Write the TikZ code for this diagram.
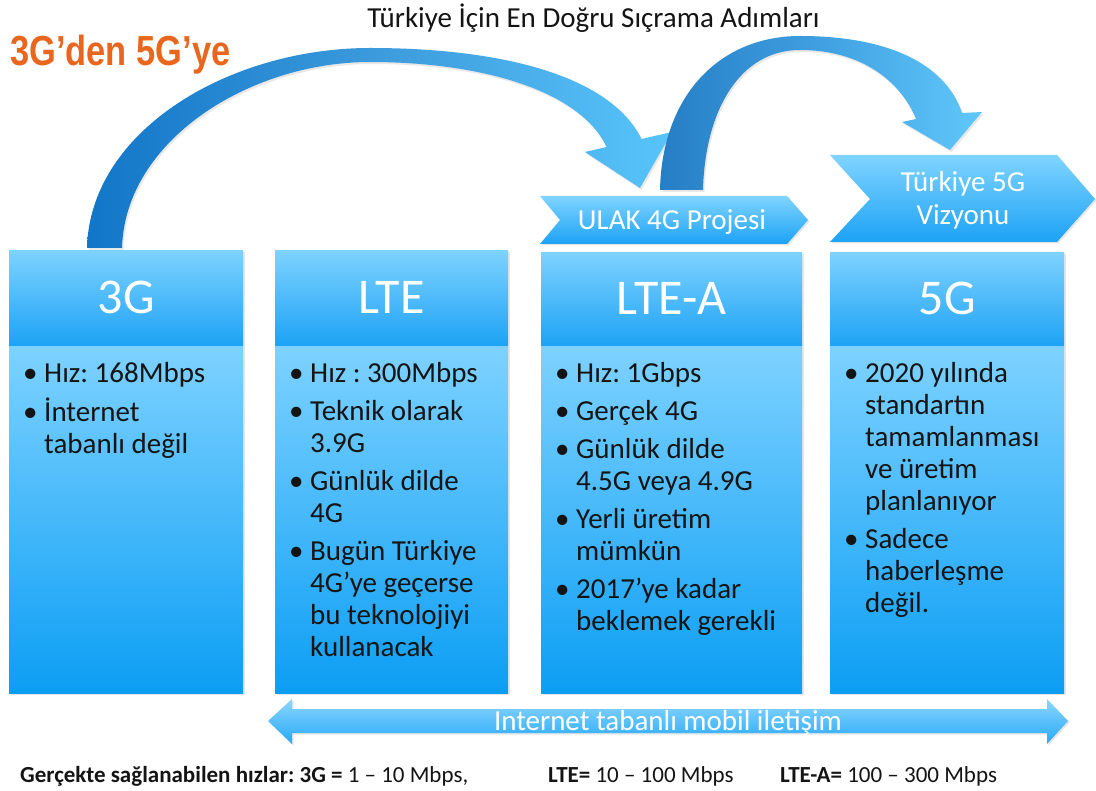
\documentclass[tikz,border=0pt]{standalone}
\usepackage{fontspec}
\setmainfont{Carlito}
\newfontfamily\headfont{Liberation Sans}
\usetikzlibrary{shadows}
\frenchspacing

\definecolor{hdtop}{RGB}{126,210,255}
\definecolor{hdbot}{RGB}{30,163,245}
\definecolor{bdtop}{RGB}{126,210,255}
\definecolor{bdbot}{RGB}{12,158,244}
\definecolor{chtop}{RGB}{128,212,255}
\definecolor{chbot}{RGB}{28,162,245}
\definecolor{dbtop}{RGB}{140,215,255}
\definecolor{dbbot}{RGB}{38,168,246}
\definecolor{orangeT}{RGB}{232,102,30}
\definecolor{txt}{RGB}{20,20,20}
\definecolor{arcA}{RGB}{18,118,200}
\definecolor{arcB}{RGB}{60,155,220}
\definecolor{arcC}{RGB}{88,196,250}
\definecolor{arcD}{RGB}{38,126,196}
\definecolor{arcE}{RGB}{64,160,225}
\definecolor{arcF}{RGB}{96,200,250}

\tikzset{
  soft/.style={drop shadow={opacity=0.2, shadow xshift=1.5pt, shadow yshift=-1.5pt}},
  frame/.style={anchor=north west, inner sep=0pt, fill=bdbot, soft},
  hdr/.style={anchor=north west, inner sep=0pt, top color=hdtop, bottom color=hdbot,
    text=white, font=\fontsize{50}{60}\selectfont},
  bdy/.style={anchor=north west, inner sep=0pt, top color=bdtop, bottom color=bdbot},
  blist/.style={anchor=north west, inner sep=0pt, font=\fontsize{29}{32}\selectfont, text=txt},
  chev/.style={top color=chtop, bottom color=chbot, soft},
  chevtext/.style={text=white, font=\fontsize{29}{33}\selectfont, inner sep=0pt, anchor=base},
  dbl/.style={top color=dbtop, bottom color=dbbot, soft},
  arcone/.style={left color=arcA, right color=arcC, middle color=arcB,
    drop shadow={opacity=0.18, shadow xshift=1.5pt, shadow yshift=-2pt}},
  arctwo/.style={left color=arcD, right color=arcF, middle color=arcE,
    drop shadow={opacity=0.18, shadow xshift=1.5pt, shadow yshift=-2pt}},
  speed/.style={anchor=base west, inner sep=0pt, font=\fontsize{23}{26}\selectfont, text=txt}
}

\begin{document}
\begin{tikzpicture}[x=1pt,y=-1pt]
\useasboundingbox[fill=white] (0,0) rectangle (1096,791);

% headings
\node[anchor=base, inner sep=0pt, font=\fontsize{29}{34}\selectfont, text=txt] (title) at (593.5,28)
  {Türkiye İçin En Doğru Sıçrama Adımları};
\node[anchor=base west, inner sep=0pt, text=orangeT, font=\headfont\bfseries\fontsize{42}{48}\selectfont] (sub) at (10,66)
  {\scalebox{0.82}[1]{3G’den 5G’ye}};

% 3G column
\node[frame, minimum width=234pt, minimum height=443pt] (f3g) at (9,250) {};
\node[bdy, minimum width=234pt, minimum height=348pt] (b3g) at (9,345) {};
\node[hdr, minimum width=234pt, minimum height=95pt] (h3g) at (9,250) {3G};
\node[blist] (l3g) at (23,359.6) {\begin{tabular}{@{}p{21pt}@{}l@{}}
\textbullet & Hız: 168Mbps \\[6pt]
\textbullet & İnternet \\
            & tabanlı değil
\end{tabular}};

% LTE column
\node[frame, minimum width=233pt, minimum height=443pt] (flte) at (275,250) {};
\node[bdy, minimum width=233pt, minimum height=348pt] (blte) at (275,345) {};
\node[hdr, minimum width=233pt, minimum height=95pt] (hlte) at (275,250) {LTE};
\node[blist] (llte) at (289,359.6) {\begin{tabular}{@{}p{21pt}@{}l@{}}
\textbullet & Hız : 300Mbps \\[6pt]
\textbullet & Teknik olarak \\
            & 3.9G \\[6pt]
\textbullet & Günlük dilde \\
            & 4G \\[6pt]
\textbullet & Bugün Türkiye \\
            & 4G’ye geçerse \\
            & bu teknolojiyi \\
            & kullanacak
\end{tabular}};

% LTE-A column
\node[frame, minimum width=261pt, minimum height=441pt] (fltea) at (541,252) {};
\node[bdy, minimum width=261pt, minimum height=348pt] (bltea) at (541,345) {};
\node[hdr, minimum width=261pt, minimum height=93pt] (hltea) at (541,252) {LTE-A};
\node[blist] (lltea) at (555,359.6) {\begin{tabular}{@{}p{21pt}@{}l@{}}
\textbullet & Hız: 1Gbps \\[6pt]
\textbullet & Gerçek 4G \\[6pt]
\textbullet & Günlük dilde \\
            & 4.5G veya 4.9G \\[6pt]
\textbullet & Yerli üretim \\
            & mümkün \\[6pt]
\textbullet & 2017’ye kadar \\
            & beklemek gerekli
\end{tabular}};

% 5G column
\node[frame, minimum width=234pt, minimum height=441pt] (f5g) at (830,252) {};
\node[bdy, minimum width=234pt, minimum height=348pt] (b5g) at (830,345) {};
\node[hdr, minimum width=234pt, minimum height=93pt] (h5g) at (830,252) {5G};
\node[blist] (l5g) at (844,359.6) {\begin{tabular}{@{}p{21pt}@{}l@{}}
\textbullet & 2020 yılında \\
            & standartın \\
            & tamamlanması \\
            & ve üretim \\
            & planlanıyor \\[6pt]
\textbullet & Sadece \\
            & haberleşme \\
            & değil.
\end{tabular}};

% chevrons above LTE-A and 5G
\path[chev] (540,196) -- (787,196) -- (808,220) -- (787,244) -- (540,244) -- (560,220) -- cycle;
\node[chevtext] (ulak) at (672,229.5) {ULAK 4G Projesi};
\path[chev] (830,155) -- (1057,155) -- (1095,199) -- (1057,242) -- (830,242) -- (870,199) -- cycle;
\node[chevtext] (vis1) at (963,191.5) {Türkiye 5G};
\node[chevtext] (vis2) at (963,224.5) {Vizyonu};

% jump arrow from 3G to LTE-A
\path[arcone] (87,248) .. controls (90,130) and (230,48) .. (370,48)
  .. controls (500,48) and (610,75) .. (641.5,139)
  -- (672,132) -- (640,188) -- (585,152) -- (606.5,147)
  .. controls (580,90) and (480,62) .. (370,62)
  .. controls (250,62) and (125,140) .. (122,248) -- cycle;

% jump arrow from LTE-A to 5G
\path[arctwo] (660,190) .. controls (662,95) and (720,36) .. (800,36)
  .. controls (885,36) and (945,62) .. (962,113)
  -- (982,112) -- (950,150) -- (902,122) -- (916,119)
  .. controls (900,80) and (860,50) .. (800,50)
  .. controls (740,50) and (705,110) .. (703,190) -- cycle;

% double-headed arrow along the bottom
\path[dbl] (268,721) -- (292,699) -- (292,709) -- (1047,709) -- (1047,699) -- (1068,721)
  -- (1047,744) -- (1047,733) -- (292,733) -- (292,744) -- cycle;
\node[chevtext] (inet) at (668,730) {Internet tabanlı mobil iletişim};

% speeds line
\node[speed] (sp3g) at (20,782) {\textbf{Gerçekte sağlanabilen hızlar: 3G =} 1 – 10 Mbps,};
\node[speed] (splte) at (548,782) {\textbf{LTE=} 10 – 100 Mbps};
\node[speed] (spltea) at (780,782) {\textbf{LTE-A=} 100 – 300 Mbps};
\end{tikzpicture}
\end{document}
